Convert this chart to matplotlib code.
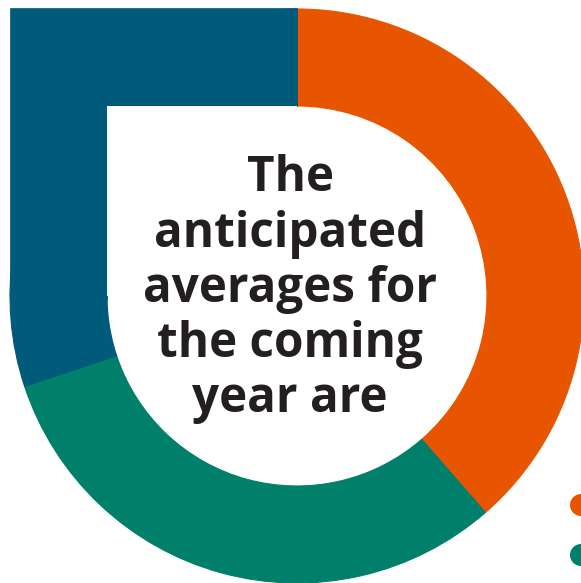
import matplotlib
matplotlib.use("Agg")
import matplotlib.pyplot as plt
from matplotlib.patches import Polygon, Rectangle
from matplotlib import font_manager as fm

# ---- data ----
categories = ["Category A", "Category B", "Category C"]
shares = [38.6, 31.3, 30.1]
colors = ["#E85500", "#00806A", "#005B7A"]
title_lines = ["The", "anticipated", "averages for", "the coming", "year are"]

# ---- layout (pixel coordinates, y up) ----
W, H = 581, 583
cx, cy = 297, 287
R, r = 287, 190
text_color = "#231F20"

fig = plt.figure(figsize=(W / 100, H / 100), dpi=100)
ax = fig.add_axes([0, 0, 1, 1])

wedges, _ = ax.pie(shares, colors=colors, startangle=90, counterclock=False,
                   center=(cx, cy), radius=R, frame=True,
                   wedgeprops=dict(width=R - r, linewidth=0.8))
for w in wedges:
    w.set_edgecolor(w.get_facecolor())

# square top-left corner of the ring (blue segment)
blue = colors[2]
ov = 3
ax.add_patch(Polygon([(cx - R, cy - ov), (cx - R, cy + R + 1), (cx, cy + R + 1),
                      (cx, cy + r), (cx - r, cy + r), (cx - r, cy - ov)],
                     closed=True, facecolor=blue, edgecolor=blue, lw=0.5, zorder=3))
ax.add_patch(Rectangle((cx - r, cy), r, r, facecolor="white", edgecolor="none", zorder=3))

# centre text
fams = [f.name for f in fm.fontManager.ttflist if f.weight in (700, "bold")]
family = "Open Sans" if "Open Sans" in fams else "Noto Sans"
baselines = [191, 247, 302, 357, 412]
for line, b in zip(title_lines, baselines):
    ax.text(290, H - b, line, ha="center", va="baseline", fontsize=34.3,
            fontweight="bold", color=text_color, family=[family, "DejaVu Sans"],
            zorder=5)

# legend markers (partially outside canvas)
for i, c in enumerate(colors):
    ax.scatter([581], [H - 505 - 50 * i], s=(22 / 1.389) ** 2, color=c,
               edgecolors="none", zorder=5, clip_on=True)

ax.set_xlim(0, W)
ax.set_ylim(0, H)
ax.set_aspect("auto")
ax.axis("off")
fig.savefig("out.png", dpi=100, facecolor="white")
